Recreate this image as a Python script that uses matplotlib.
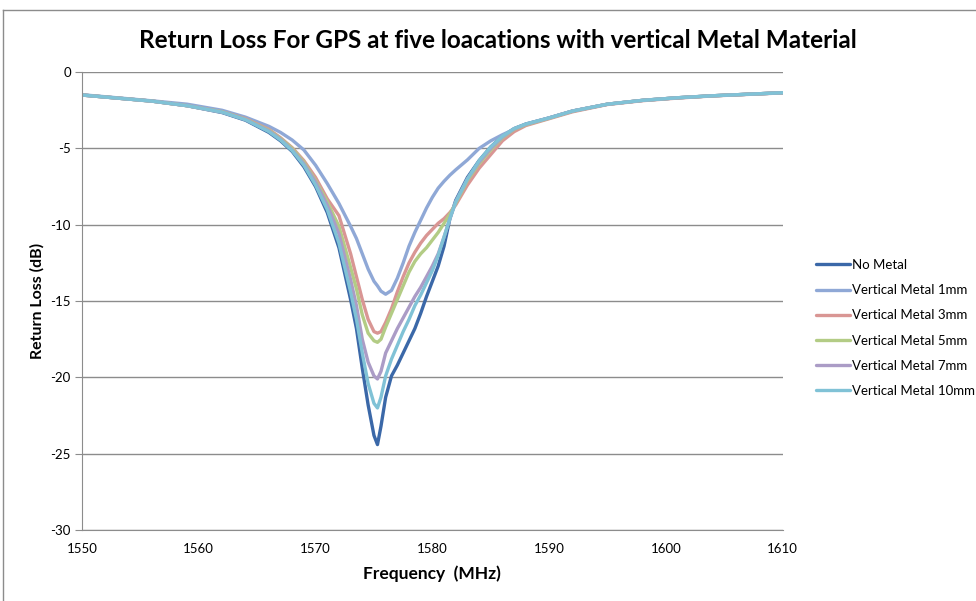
import matplotlib
matplotlib.use("Agg")
import matplotlib.pyplot as plt
from matplotlib.lines import Line2D

# Lato is the closest installed face to the Calibri of the original
plt.rcParams['font.family'] = ['Lato', 'DejaVu Sans']
plt.rcParams['axes.unicode_minus'] = False

# frequency points (MHz), shared by every series
freq = [1550, 1553, 1556, 1559, 1562, 1564, 1566, 1567, 1568, 1569, 1570, 1571,
        1572, 1573, 1573.5, 1574, 1574.5, 1575, 1575.3, 1575.6, 1576, 1576.5,
        1577, 1577.5, 1578, 1578.5, 1579, 1579.5, 1580, 1580.5, 1581, 1581.5,
        1582, 1583, 1584, 1585, 1586, 1587, 1588, 1590, 1592, 1595, 1598, 1601,
        1604, 1607, 1610]

# return loss (dB)
no_metal = [-1.5, -1.7, -1.9, -2.2, -2.65, -3.15, -3.95, -4.5, -5.2, -6.2, -7.5, -9.2,
            -11.5, -14.9, -16.8, -19.4, -21.8, -23.8, -24.4, -23.2, -21.3, -19.9,
            -19.2, -18.4, -17.6, -16.8, -15.8, -14.7, -13.7, -12.7, -11.4, -9.6,
            -8.4, -6.9, -5.8, -4.9, -4.2, -3.7, -3.4, -3.0, -2.55, -2.1, -1.85, -1.68,
            -1.55, -1.45, -1.35]
metal_1mm = [-1.48, -1.68, -1.88, -2.1, -2.5, -2.95, -3.55, -3.95, -4.45, -5.1, -6.1, -7.3,
             -8.6, -10.1, -10.9, -11.9, -12.9, -13.7, -14.0, -14.35, -14.55, -14.3,
             -13.5, -12.5, -11.4, -10.5, -9.7, -8.9, -8.2, -7.6, -7.15, -6.75,
             -6.4, -5.75, -5.0, -4.5, -4.1, -3.75, -3.45, -3.0, -2.55, -2.1, -1.85, -1.68,
             -1.55, -1.45, -1.35]
metal_3mm = [-1.5, -1.7, -1.9, -2.2, -2.6, -3.05, -3.75, -4.3, -4.95, -5.8, -6.9, -8.3,
             -9.4, -11.9, -13.4, -14.9, -16.2, -17.0, -17.1, -17.0, -16.4, -15.5,
             -14.4, -13.4, -12.5, -11.8, -11.2, -10.7, -10.3, -9.9, -9.6, -9.2,
             -8.7, -7.4, -6.3, -5.4, -4.5, -3.9, -3.5, -3.05, -2.6, -2.12, -1.87, -1.7,
             -1.56, -1.46, -1.36]
metal_5mm = [-1.5, -1.7, -1.9, -2.2, -2.6, -3.08, -3.8, -4.35, -5.0, -5.9, -7.1, -8.5,
             -10.1, -12.8, -14.2, -15.9, -17.1, -17.6, -17.7, -17.5, -16.7, -15.8,
             -14.9, -14.0, -13.1, -12.4, -11.9, -11.5, -11.0, -10.5, -9.9, -9.3,
             -8.6, -7.1, -6.0, -5.1, -4.3, -3.75, -3.45, -3.02, -2.56, -2.1, -1.85, -1.68,
             -1.55, -1.45, -1.35]
metal_7mm = [-1.5, -1.7, -1.9, -2.2, -2.62, -3.1, -3.85, -4.4, -5.1, -6.0, -7.2, -8.7,
             -10.6, -13.6, -15.3, -17.5, -19.0, -19.9, -20.1, -19.6, -18.4, -17.6,
             -16.8, -16.1, -15.4, -14.7, -14.1, -13.4, -12.7, -11.9, -10.8, -9.6,
             -8.5, -7.0, -5.9, -5.0, -4.25, -3.72, -3.42, -3.0, -2.55, -2.1, -1.85, -1.68,
             -1.55, -1.45, -1.35]
metal_10mm = [-1.5, -1.7, -1.9, -2.2, -2.62, -3.12, -3.9, -4.45, -5.15, -6.1, -7.4, -9.0,
              -11.2, -14.4, -16.2, -18.4, -20.4, -21.7, -22.0, -21.3, -19.9, -18.8,
              -17.9, -17.0, -16.2, -15.3, -14.6, -13.8, -13.0, -12.0, -10.8, -9.6,
              -8.5, -7.0, -5.8, -4.9, -4.2, -3.7, -3.4, -3.0, -2.55, -2.1, -1.85, -1.68,
              -1.55, -1.45, -1.35]

labels = ['No Metal', 'Vertical Metal 1mm', 'Vertical Metal 3mm',
          'Vertical Metal 5mm', 'Vertical Metal 7mm', 'Vertical Metal 10mm']
colors = ['#3b68a8', '#8fa8d6', '#d99694', '#b3cc85', '#ab9cc6', '#80c2d6']
series = [no_metal, metal_1mm, metal_3mm, metal_5mm, metal_7mm, metal_10mm]

fig = plt.figure(figsize=(9.76, 6.01), dpi=100)
ax = fig.add_axes([0.084, 0.118, 0.718, 0.762])

for vals, lab, col in zip(series, labels, colors):
    ax.plot(freq, vals, color=col, lw=2.4, label=lab, solid_capstyle='round')

ax.set_xlim(1550, 1610)
ax.set_ylim(-30, 0)
ax.set_xticks(range(1550, 1611, 10))
ax.set_yticks(range(-30, 1, 5))
ax.yaxis.grid(True, color='#8c8c8c', lw=1)
ax.set_axisbelow(True)
for side in ['top', 'right']:
    ax.spines[side].set_visible(False)
for side in ['left', 'bottom']:
    ax.spines[side].set_color('#8c8c8c')
ax.tick_params(axis='y', length=5, color='#8c8c8c', labelsize=9.5, pad=3)
ax.tick_params(axis='x', length=0, labelsize=9.5, pad=9)

ax.set_xlabel('Frequency  (MHz)', fontsize=12.5, fontweight='bold', labelpad=8)
ax.set_ylabel('Return Loss (dB)', fontsize=11.5, fontweight='bold', labelpad=4)
fig.text(0.51, 0.933, 'Return Loss For GPS at five loacations with vertical Metal Material',
         ha='center', va='center', fontsize=17.5, fontweight='bold')

fig.legend(loc='upper left', bbox_to_anchor=(0.836, 0.569), frameon=False,
           fontsize=9.5, handlelength=2.6, handletextpad=0.1, labelspacing=1.0,
           borderpad=0, borderaxespad=0)

# outer chart border
fig.add_artist(Line2D([3/976, 3/976], [0, 1 - 10/601], color='#8c8c8c', lw=1))
fig.add_artist(Line2D([3/976, 1], [1 - 10/601, 1 - 10/601], color='#8c8c8c', lw=1))

fig.savefig('out.png', dpi=100)
